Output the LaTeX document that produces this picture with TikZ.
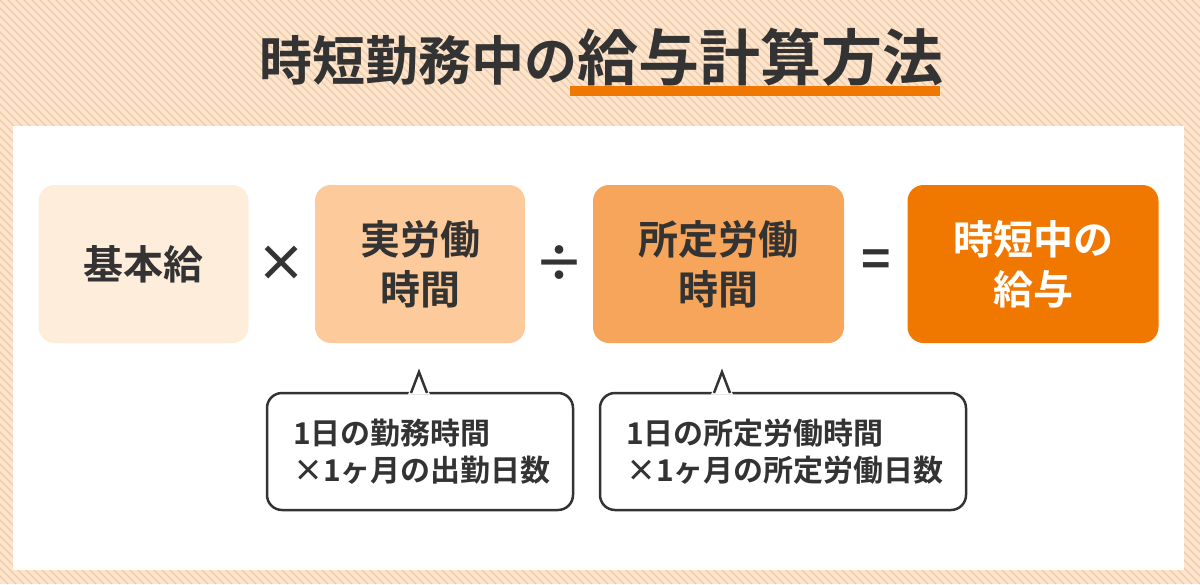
\documentclass[tikz,border=0pt]{standalone}
\usepackage{fontspec}
\usetikzlibrary{calc}
\newfontfamily\jpb{Noto Sans CJK JP Bold}
\definecolor{bgpeach}{HTML}{FDE4CA}
\definecolor{stripec}{HTML}{EACBAE}
\definecolor{cA}{HTML}{FEEDDB}
\definecolor{cB}{HTML}{FDCB9B}
\definecolor{cC}{HTML}{F6A55B}
\definecolor{cD}{HTML}{F07800}
\definecolor{ink}{HTML}{333333}
\tikzset{
  stripe/.style={draw=stripec, line width=1.2pt},
  box/.style={rounded corners=16pt, text=ink, align=center, inner sep=0pt,
    font=\jpb\fontsize{40}{50}\selectfont, minimum height=158pt},
  op/.style={text=ink, inner sep=0pt, font=\jpb\fontsize{50}{50}\selectfont},
  callout/.style={draw=ink, line width=2.5pt, fill=white, rounded corners=15pt,
    align=left, inner xsep=26pt, inner ysep=0pt, text=ink,
    font=\jpb\fontsize{30}{37}\selectfont, minimum height=117pt},
  tailline/.style={draw=ink, line width=2.5pt, line join=miter},
  ttl/.style={text=ink, inner sep=0pt},
}
\begin{document}
\begin{tikzpicture}[x=1pt,y=-1pt]
\useasboundingbox (0,0) rectangle (1200,584);
\fill[bgpeach] (0,0) rectangle (1200,584);
\begin{scope}
  \clip (0,0) rectangle (1200,584);
  \foreach \i in {-600,-592,...,1200} \draw[stripe] (\i,0) -- ++(584,584);
\end{scope}
\fill[white] (13,126) rectangle (1184,570);

% title
\fill[cD] (570,86) rectangle (940,96);
\node[ttl, anchor=base] (title) at (601,80)
  {{\jpb\fontsize{53}{53}\selectfont 時短勤務中の}{\jpb\fontsize{61}{61}\selectfont 給与計算方法}};

% formula boxes
\node[box, fill=cA, minimum width=210pt] (kihon) at (143.5,264) {基本給};
\node[box, fill=cB, minimum width=210pt] (jitsu) at (420,264) {実労働\\時間};
\node[box, fill=cC, minimum width=251pt] (shotei) at (718.5,264) {所定労働\\時間};
\node[box, fill=cD, minimum width=251pt, text=white] (kyuyo) at (1033,264) {時短中の\\給与};

\node[op] (times) at ($(kihon.east)!0.5!(jitsu.west)$) {×};
\node[op] (div) at ($(jitsu.east)!0.5!(shotei.west)$) {÷};
\node[op] (eq) at ($(shotei.east)!0.5!(kyuyo.west)$) {=};

% callouts
\node[callout, minimum width=306pt, text width=254pt] (cl) at (420,451.5)
  {1日の勤務時間\\×1ヶ月の出勤日数};
\node[callout, minimum width=366pt, text width=314pt] (cr) at (783,451.5)
  {1日の所定労働時間\\×1ヶ月の所定労働日数};

\coordinate (tl) at (419,372);
\fill[white] (408,394.5) -- (419,370) -- (430,394.5) -- cycle;
\draw[tailline] (411,393) -- (tl) -- (427,393);
\coordinate (tr) at (722,372);
\fill[white] (711,394.5) -- (722,370) -- (733,394.5) -- cycle;
\draw[tailline] (714,393) -- (tr) -- (730,393);
\end{tikzpicture}
\end{document}
